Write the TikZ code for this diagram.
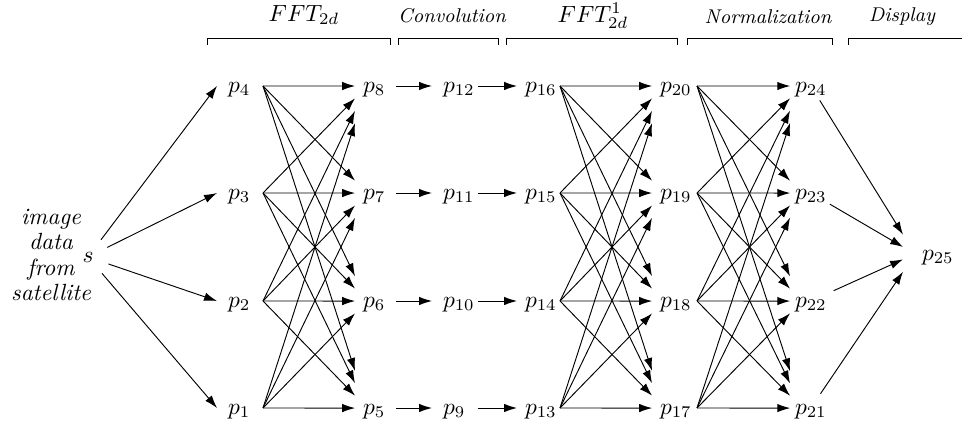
\documentclass[tikz,border=0pt]{standalone}
\usepackage{amsmath,amssymb}
\usepackage{xcolor}
\usepackage{tikz}
\usetikzlibrary{arrows.meta}

\tikzset{
  pnode/.style={inner sep=0pt, outer sep=0pt, anchor=west, text height=5.5pt, text depth=0pt},
  stage/.style={font=\fontsize{8.5}{10}\selectfont\itshape},
}

\begin{document}
\begin{tikzpicture}[x=0.015cm, y=-0.015cm, >={Latex[length=5.5pt,width=3.6pt]}]
  \useasboundingbox (0,0) rectangle (962,435);
  % stage brackets and titles
  \draw (207,45) -- (207,38) -- (390,38) -- (390,45);
  \draw (398,45) -- (398,38) -- (498,38) -- (498,45);
  \draw (506,45) -- (506,38) -- (677,38) -- (677,45);
  \draw (687,45) -- (687,38) -- (832,38) -- (832,45);
  \draw (848,45) -- (848,38) -- (962,38);
  \node (tfft) at (304,15) {$FFT_{2d}$};
  \node[stage] (tconv) at (452,16) {Convolution};
  \node (tifft) at (593,16) {$FFT^{1}_{2d}$};
  \node[stage] (tnorm) at (768,17) {Normalization};
  \node[stage] (tdisp) at (902,17) {Display};

  % satellite source
  \node[align=center, font={\fontsize{10}{10.7}\selectfont\itshape}] (src) at (51,255) {image\\data\\from\\satellite};
  \node[circle, inner sep=0pt, minimum size=18pt] (s) at (88,257) {$s$};

  % processors: label x, tip x, start x per column
  \foreach \c/\xlab/\xin/\xout in {0/228/217/263, 1/363/355/396, 2/443/432/478, 3/525/517/560, 4/660/652/697, 5/795/790/810}
    \foreach \r/\y in {1/408, 2/301, 3/193, 4/86} {
      \pgfmathtruncatemacro{\n}{4*\c+\r}
      \node[pnode] (p\n) at (\xlab,\y) {$p_{\n}$};
      \coordinate (i\n) at (\xin,\y);
      \coordinate (v\n) at (\xin,\y+10);
      \coordinate (a\n) at (\xin+12,\y);
      \coordinate (o\n) at (\xout,\y);
    }
  \node[pnode] (p25) at (922,254) {$p_{25}$};
  \coordinate (i25) at (903,254);
  \coordinate (v25) at (903,264);
  \coordinate (a25) at (915,254);

  % input
  \foreach \n in {1,...,4}
    \draw[->] (s) -- (i\n);

  % butterflies
  \foreach \f in {0,3,4}
    \foreach \r in {1,...,4}
      \foreach \t in {1,...,4} {
        \pgfmathtruncatemacro{\m}{4*\f+\r}
        \pgfmathtruncatemacro{\n}{4*\f+4+\t}
        \draw[->] (o\m) -- (intersection of o\m.center--a\n.center and i\n.center--v\n.center);
      }

  % convolution links
  \foreach \m/\n in {5/9, 6/10, 7/11, 8/12, 9/13, 10/14, 11/15, 12/16}
    \draw[->] (o\m) -- (i\n);

  % display
  \foreach \m in {21,...,24}
    \draw[->, shorten <=4pt] (p\m) -- (intersection of p\m.center--a25.center and i25.center--v25.center);
\end{tikzpicture}
\end{document}
